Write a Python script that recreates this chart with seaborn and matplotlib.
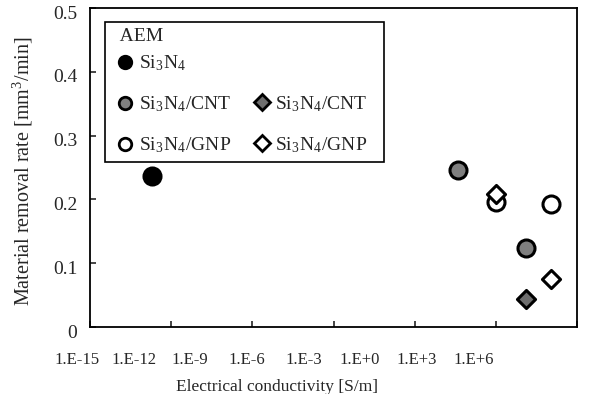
import numpy as np
import pandas as pd
import matplotlib
matplotlib.use('Agg')
import matplotlib.pyplot as plt
import matplotlib.transforms as mtrans
from matplotlib.lines import Line2D
import seaborn as sb

# values (conductivity S/m, removal rate mm3/min)
aem_si3n4_x = [2e-13]
aem_si3n4_y = [0.237]
aem_cnt_x = [0.04, 13.0]
aem_cnt_y = [0.246, 0.124]
aem_gnp_x = [1.0, 107.0]
aem_gnp_y = [0.196, 0.193]
non_cnt_x = [13.0]
non_cnt_y = [0.044]
non_gnp_x = [1.0, 107.0]
non_gnp_y = [0.208, 0.075]

x_exps = [-15, -12, -9, -6, -3, 0, 3, 6]
x_labels = ['1.E-15', '1.E-12', '1.E-9', '1.E-6', '1.E-3', '1.E+0', '1.E+3', '1.E+6']
y_ticks = [0, 0.1, 0.2, 0.3, 0.4, 0.5]
y_labels = ['0', '0.1', '0.2', '0.3', '0.4', '0.5']

sb.set_style('ticks')
plt.rcParams['font.family'] = ['Liberation Serif', 'DejaVu Serif']
plt.rcParams['mathtext.fontset'] = 'stix'
plt.rcParams['font.size'] = 12

grey = '#7f7f7f'
fig = plt.figure(figsize=(6.11, 3.94), dpi=100)
ax = fig.add_axes([90/611, 1-327/394, 487/611, 319/394])

def sc(x, y, m, fc, s):
    d = pd.DataFrame({'x': x, 'y': y})
    sb.scatterplot(data=d, x='x', y='y', marker=m, s=s, color=fc,
                   edgecolor='black', linewidth=2.2, legend=False, ax=ax, zorder=3)

sc(aem_si3n4_x, aem_si3n4_y, 'o', 'black', 150)
sc(aem_cnt_x, aem_cnt_y, 'o', grey, 150)
sc(aem_gnp_x, aem_gnp_y, 'o', 'white', 150)
sc(non_cnt_x, non_cnt_y, 'D', '#6e6e6e', 85)
sc(non_gnp_x, non_gnp_y, 'D', 'white', 85)

ax.set_xscale('log')
ax.set_xlim(1e-15, 1e3)
ax.set_ylim(0, 0.5)
ax.set_xticks([10.0**e for e in range(-15, 4, 3)])
ax.xaxis.set_minor_locator(matplotlib.ticker.NullLocator())
ax.tick_params(axis='x', direction='in', length=4, width=1.2, labelbottom=False)
ax.set_yticks(y_ticks)
ax.set_yticklabels(y_labels)
ax.tick_params(axis='y', direction='in', length=4, width=1.2, pad=9, labelsize=14)
shift = mtrans.ScaledTranslation(0, -3/72, fig.dpi_scale_trans)
for t in ax.get_yticklabels():
    t.set_transform(t.get_transform() + shift)
for sp in ax.spines.values():
    sp.set_visible(True)
    sp.set_color('black')
    sp.set_linewidth(1.3)

# tick labels in the source sit on their own spacing, not on the tick marks
for e, lab in zip(x_exps, x_labels):
    xf = (-13 + (e + 15) * 18.87) / 487
    ax.text(xf, -0.103, lab, transform=ax.transAxes, ha='center', va='center', fontsize=12)

ax.set_xlabel('Electrical conductivity [S/m]', fontsize=12.5)
ax.xaxis.set_label_coords(0.384, -0.163)
ax.set_ylabel('Material removal rate [mm$^\\mathregular{3}$/min]', fontsize=14.5)
ax.yaxis.set_label_coords(-0.113, 0.49)

si = 'Si$_\\mathregular{3}$N$_\\mathregular{4}$'
def h(m, fc, ms):
    return Line2D([], [], linestyle='none', marker=m, markersize=ms,
                  markerfacecolor=fc, markeredgecolor='black', markeredgewidth=2)
handles = [h('o', 'black', 9), h('o', grey, 9), h('o', 'white', 9),
           Line2D([], [], linestyle='none'), h('D', '#6e6e6e', 8), h('D', 'white', 8)]
labels = [si, si + '/CNT', si + '/GNP', ' ', si + '/CNT   ', si + '/GNP   ']
leg = ax.legend(handles, labels, ncol=2, loc='upper left', bbox_to_anchor=(0.031, 0.956),
                borderaxespad=0, title='  AEM', alignment='left', fancybox=False,
                framealpha=1, edgecolor='black', handlelength=1.4, handletextpad=0.0,
                columnspacing=0.88, labelspacing=1.1, fontsize=14, title_fontsize=14,
                borderpad=0.32)
leg.get_frame().set_linewidth(1.2)
try:
    leg._legend_box.sep = 6
except Exception:
    pass
ax.text((259-90)/487, (327-36)/319, 'Non-AEM', transform=ax.transAxes,
        ha='left', va='center', fontsize=14, zorder=5)

fig.savefig('out.png', dpi=100)
